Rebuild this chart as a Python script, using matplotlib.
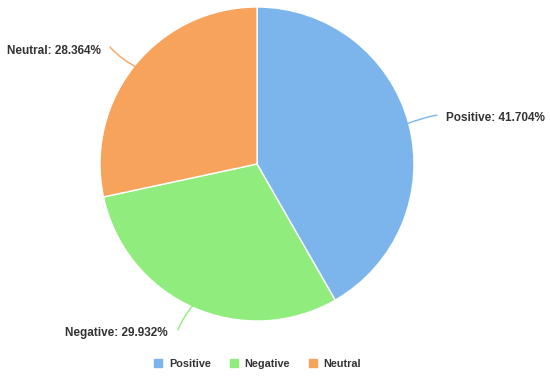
import numpy as np
import matplotlib
matplotlib.use("Agg")
import matplotlib.pyplot as plt
from matplotlib.lines import Line2D

# -------------------------
# Data
# -------------------------
labels = ["Positive", "Negative", "Neutral"]
shares = [41.704, 29.932, 28.364]
colors = ["#7cb5ec", "#90ed7d", "#f7a35c"]

plt.rcParams["font.family"] = ["Liberation Sans", "DejaVu Sans"]

# -------------------------
# Figure (pixel coordinates, y up)
# -------------------------
W, H = 550, 376
fig = plt.figure(figsize=(W / 100, H / 100), dpi=100)
ax = fig.add_axes([0, 0, 1, 1])

cx, cy, r = 257, H - 164, 157
wedges, _ = ax.pie(shares, colors=colors, startangle=90, counterclock=False,
                   center=(cx, cy), radius=r, frame=True,
                   wedgeprops=dict(edgecolor="white", linewidth=1))
ax.set_xlim(0, W)
ax.set_ylim(0, H)
ax.set_aspect("equal")
ax.axis("off")

# label anchors, connector ends, alignment
label_xy = [(446, H - 118), (168, H - 333), (101, H - 51)]
line_end = [(437, H - 115), (178, H - 330), (110, H - 47)]
aligns = ["left", "right", "right"]
rads = [0.05, -0.1, 0.1]

for w, s, lab, col, (tx, ty), (ex, ey), ha, rad in zip(
        wedges, shares, labels, colors, label_xy, line_end, aligns, rads):
    mid = np.deg2rad((w.theta1 + w.theta2) / 2)
    px, py = cx + (r - 4) * np.cos(mid), cy + (r - 4) * np.sin(mid)
    ax.annotate("", xy=(px, py), xytext=(ex, ey),
                arrowprops=dict(arrowstyle="-", color=col, lw=1,
                                shrinkA=0, shrinkB=0,
                                connectionstyle=f"arc3,rad={rad}"))
    ax.text(tx, ty, f"{lab}: {s:.3f}%", ha=ha, va="center",
            fontsize=8.5, fontweight="bold", color="#333333")

handles = [Line2D([0], [0], marker="s", linestyle="", markersize=6,
                  markerfacecolor=c, markeredgecolor=c) for c in colors]
fig.legend(handles, labels, loc="center", bbox_to_anchor=(257 / W, 1 - 364 / H),
           ncol=3, frameon=False, handletextpad=0.5, handlelength=1.0,
           columnspacing=1.6, prop=dict(weight="bold", size=7.8))
for t in fig.legends[0].get_texts():
    t.set_color("#333333")

fig.savefig("out.png", dpi=100)
